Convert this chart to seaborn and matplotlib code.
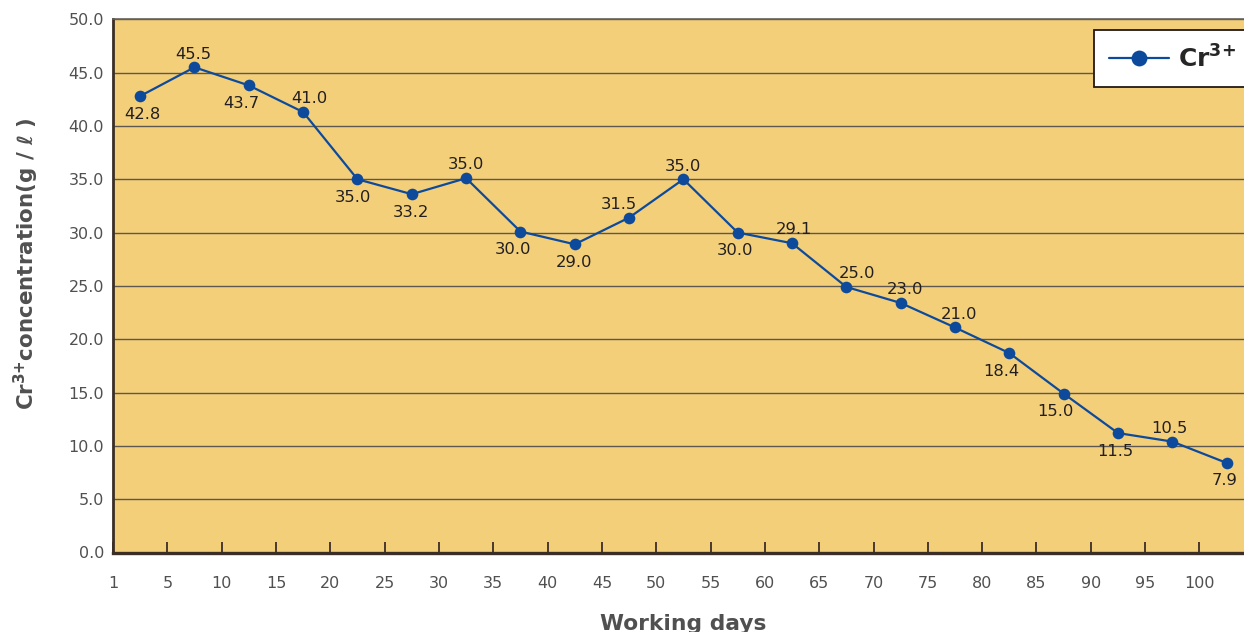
import numpy as np
import pandas as pd
import matplotlib
matplotlib.use("Agg")
import matplotlib.pyplot as plt
import seaborn as sns

# ---- data ----
day_ticks = ["1", "5", "10", "15", "20", "25", "30", "35", "40", "45", "50",
             "55", "60", "65", "70", "75", "80", "85", "90", "95", "100"]
cr_values = [42.8, 45.5, 43.8, 41.3, 35.0, 33.6, 35.1, 30.1, 28.9, 31.4, 35.0,
             30.0, 29.0, 24.9, 23.4, 21.1, 18.7, 14.9, 11.2, 10.4, 8.4]
cr_labels = ["42.8", "45.5", "43.7", "41.0", "35.0", "33.2", "35.0", "30.0", "29.0",
             "31.5", "35.0", "30.0", "29.1", "25.0", "23.0", "21.0", "18.4", "15.0",
             "11.5", "10.5", "7.9"]
y_ticks = [0, 5, 10, 15, 20, 25, 30, 35, 40, 45, 50]

# label placement (style): above / below and small horizontal nudges (points)
label_side = ["b", "a", "b", "a", "b", "b", "a", "b", "b", "a", "a",
              "b", "a", "a", "a", "a", "b", "b", "b", "a", "b"]
label_dx = [1.5, -0.7, -5.4, 4.3, -2.9, -0.7, 0, -5.0, -0.7, -7.2, 0,
            -2.2, 1.4, 7.9, 2.9, 3.1, -5.8, -6.0, -2.2, -2.2, -1.4]

sns.set_style("white")
plt.rcParams["font.family"] = ["DejaVu Sans"]
plt.rcParams["mathtext.default"] = "regular"

df = pd.DataFrame({"pos": np.arange(len(cr_values)) + 0.5, "value": cr_values})

W, H = 1244, 632
fig = plt.figure(figsize=(W / 100, H / 100), dpi=100)
fig.patch.set_facecolor("white")
ax = fig.add_axes([113 / W, 1 - 552.5 / H, 1 - 113 / W, (552.5 - 19.3) / H])
ax.set_facecolor("#F3CF7A")

line_color = "#0E4A9B"
sns.lineplot(data=df, x="pos", y="value", ax=ax, color=line_color, linewidth=1.6,
             marker="o", markersize=8.4, markeredgewidth=0, label="Cr$^{3{+}}$",
             zorder=3)

ax.set_xlim(0, 20.82)
ax.set_ylim(0, 50)
ax.set_xticks(np.arange(len(day_ticks)))
ax.set_xticklabels(day_ticks)
ax.set_yticks(y_ticks)
ax.set_yticklabels([f"{v:.1f}" for v in y_ticks])
ax.set_xlabel("")
ax.set_ylabel("")

ax.yaxis.grid(True, color="#5c5750", linewidth=1.0)
ax.xaxis.grid(False)
ax.set_axisbelow(True)

for s, c, lw in [("left", "#3a2e26", 2.0), ("bottom", "#3a2e26", 2.4), ("top", "#66615a", 1.2)]:
    ax.spines[s].set_visible(True)
    ax.spines[s].set_color(c)
    ax.spines[s].set_linewidth(lw)
ax.spines["right"].set_visible(False)

ax.tick_params(axis="x", bottom=True, top=False, direction="in", length=8, width=1.3,
               color="#3a2e26", pad=17, labelsize=11.5, labelcolor="#505050")
ax.tick_params(axis="y", left=False, length=0, pad=6.5, labelsize=11.5, labelcolor="#505050")

for xp, yv, txt, side, dx in zip(df["pos"], cr_values, cr_labels, label_side, label_dx):
    if side == "a":
        ax.annotate(txt, (xp, yv), xytext=(dx, 6.3), textcoords="offset points",
                    ha="center", va="baseline", fontsize=11.8, color="#231f20", zorder=4)
    else:
        ax.annotate(txt, (xp, yv), xytext=(dx, -7.6), textcoords="offset points",
                    ha="center", va="top", fontsize=11.8, color="#231f20", zorder=4)

leg = ax.legend(loc="upper left", bbox_to_anchor=(1094 / W, 1 - 30 / H),
                bbox_transform=fig.transFigure, borderaxespad=0,
                prop={"family": "DejaVu Sans", "weight": "bold", "size": 18},
                handlelength=2.4, handletextpad=0.36, borderpad=0.6,
                markerscale=1.36, fancybox=False, framealpha=1,
                edgecolor="#231815", facecolor="white")
leg.get_frame().set_linewidth(1.3)
leg.set_zorder(5)

fig.text(26 / W, 1 - 264 / H, "Cr$^{3{+}}$concentration(g / ℓ )", rotation=90,
         ha="center", va="center", fontsize=15.4, fontweight="bold", color="#505050")
fig.text(683.5 / W, 1 - 630 / H, "Working days", ha="center", va="baseline",
         fontsize=15.7, fontweight="bold", color="#505050")

fig.savefig("out.png", dpi=100)
